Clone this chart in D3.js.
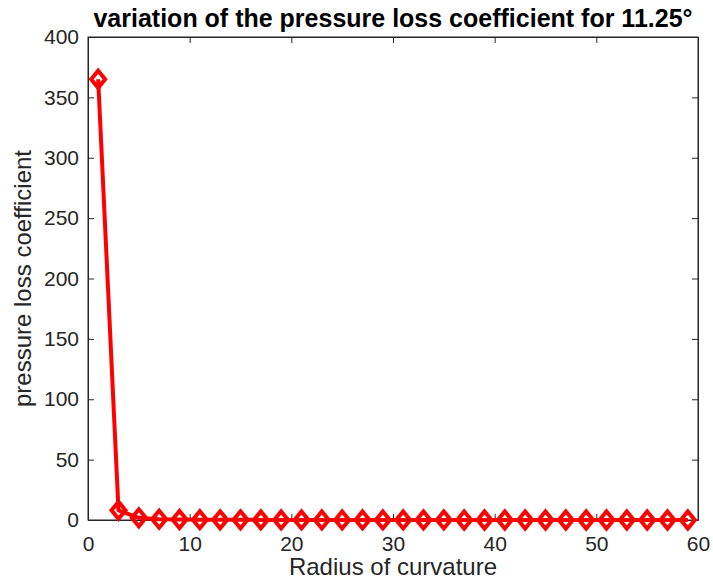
<!DOCTYPE html>
<html>
<head>
<meta charset="utf-8">
<script src="https://cdn.jsdelivr.net/npm/d3@7"></script>
<style>
  body { margin: 0; background: #fff; }
  svg { display: block; font-family: Helvetica, Arial, "Liberation Sans", sans-serif; }
</style>
</head>
<body>
<svg id="chart" width="713" height="580"></svg>
<script>
// data
var radius = [1, 3, 5, 7, 9, 11, 13, 15, 17, 19, 21, 23, 25, 27, 29,
  31, 33, 35, 37, 39, 41, 43, 45, 47, 49, 51, 53, 55, 57, 59]
var lossCoef = [365, 8, 1.8, 0.7, 0.4, 0.25, 0.18, 0.13, 0.1, 0.08, 0.06, 0.05, 0.04, 0.035, 0.03,
  0.025, 0.02, 0.018, 0.016, 0.014, 0.012, 0.011, 0.01, 0.009, 0.008, 0.007, 0.007, 0.006, 0.006, 0.005]
var xTicks = [0, 10, 20, 30, 40, 50, 60]
var yTicks = [0, 50, 100, 150, 200, 250, 300, 350, 400]

var svg = d3.select('#chart')
var plotLeft = 88, plotRight = 698, plotTop = 37, plotBottom = 520
var x = d3.scaleLinear().domain([0, 60]).range([plotLeft, plotRight])
var y = d3.scaleLinear().domain([0, 400]).range([plotBottom, plotTop])
var tickLen = 6
var axisColor = '#262626'
var fontFam = 'Helvetica, Arial, "Liberation Sans", sans-serif'

var g = svg.append('g')

// box
g.append('rect')
  .attr('x', plotLeft).attr('y', plotTop)
  .attr('width', plotRight - plotLeft).attr('height', plotBottom - plotTop)
  .attr('fill', 'white').attr('stroke', axisColor).attr('stroke-width', 1)

// axes
var xAxis = g.append('g').attr('transform', 'translate(0,' + plotBottom + ')')
  .call(d3.axisBottom(x).tickValues(xTicks).tickSizeInner(-tickLen).tickSizeOuter(0).tickPadding(16))
var xTop = g.append('g').attr('transform', 'translate(0,' + plotTop + ')')
  .call(d3.axisTop(x).tickValues(xTicks).tickSizeInner(-tickLen).tickSizeOuter(0).tickFormat(''))
var yAxis = g.append('g').attr('transform', 'translate(' + plotLeft + ',0)')
  .call(d3.axisLeft(y).tickValues(yTicks).tickSizeInner(-tickLen).tickSizeOuter(0).tickPadding(9))
var yRight = g.append('g').attr('transform', 'translate(' + plotRight + ',0)')
  .call(d3.axisRight(y).tickValues(yTicks).tickSizeInner(-tickLen).tickSizeOuter(0).tickFormat(''))

;[xAxis, xTop, yAxis, yRight].forEach(function (a) {
  a.select('.domain').attr('stroke', axisColor)
  a.selectAll('.tick line').attr('stroke', axisColor)
  a.selectAll('.tick text').attr('fill', axisColor).attr('font-size', 21)
    .attr('font-family', fontFam)
})

// line
var line = d3.line()
  .x(function (d, i) { return x(radius[i]) })
  .y(function (d) { return y(d) })

g.append('path')
  .datum(lossCoef)
  .attr('d', line)
  .attr('fill', 'none')
  .attr('stroke', '#ff0000')
  .attr('stroke-width', 4)
  .attr('stroke-linejoin', 'round')

// diamond markers
var mkH = 8.5, mkW = 7
g.selectAll('.marker')
  .data(lossCoef)
  .enter().append('path')
  .attr('class', 'marker')
  .attr('d', function (d, i) {
    var cx = x(radius[i]), cy = y(d)
    return 'M' + cx + ',' + (cy - mkH) + 'L' + (cx + mkW) + ',' + cy +
      'L' + cx + ',' + (cy + mkH) + 'L' + (cx - mkW) + ',' + cy + 'Z'
  })
  .attr('fill', 'none')
  .attr('stroke', '#ff0000')
  .attr('stroke-width', 4)

// labels
svg.append('text')
  .attr('x', (plotLeft + plotRight) / 2).attr('y', 27)
  .attr('text-anchor', 'middle')
  .attr('font-size', 25).attr('font-weight', 'bold')
  .attr('fill', '#000')
  .text('variation of the pressure loss coefficient for 11.25°')

svg.append('text')
  .attr('x', (plotLeft + plotRight) / 2).attr('y', 575)
  .attr('text-anchor', 'middle')
  .attr('font-size', 24).attr('fill', axisColor)
  .text('Radius of curvature')

svg.append('text')
  .attr('transform', 'translate(31,' + ((plotTop + plotBottom) / 2) + ') rotate(-90)')
  .attr('text-anchor', 'middle')
  .attr('font-size', 24).attr('fill', axisColor)
  .text('pressure loss coefficient')
</script>
</body>
</html>
